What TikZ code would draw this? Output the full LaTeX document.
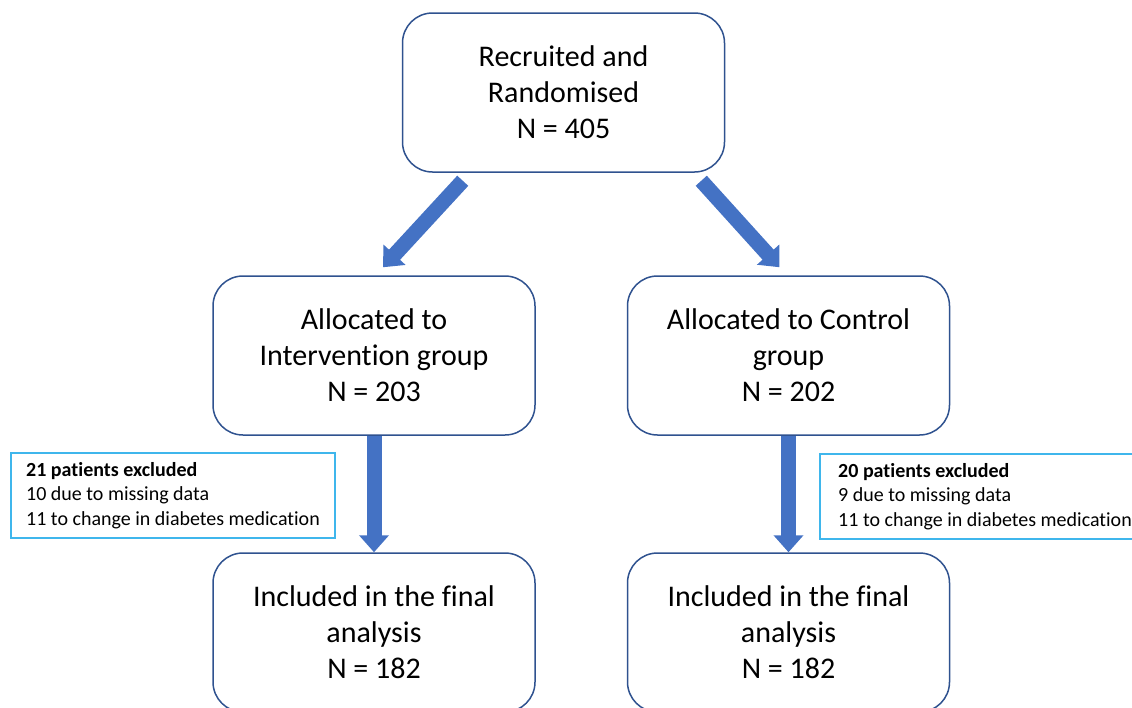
\documentclass[tikz,border=0pt]{standalone}
\usepackage{fontspec}
\setmainfont[Ligatures=CommonOff]{Carlito}
\usetikzlibrary{arrows.meta}
\definecolor{boxline}{HTML}{2F528F}
\definecolor{arrowblue}{HTML}{4472C4}
\definecolor{notecyan}{HTML}{3FB6EC}
\tikzset{
    stage/.style={draw=boxline, line width=1.5pt, rounded corners=30pt,
        minimum width=322pt, minimum height=159pt, align=center,
        font=\fontsize{30}{36}\selectfont},
    note/.style={draw=notecyan, line width=2pt, anchor=north west,
        minimum width=324pt, minimum height=85pt,
        inner xsep=13pt, align=left, font=\fontsize{20}{24.5}\selectfont},
    flow/.style={draw=arrowblue, line width=15pt,
        -{Triangle[width=29pt,length=17pt]}},
}
\begin{document}
\begin{tikzpicture}[x=1pt,y=-1pt]
    \useasboundingbox (0,0) rectangle (1132,707);
    \node[stage] (rec) at (563.5,92.5) {Recruited and\\Randomised\\N = 405};
    \node[stage] (intv) at (374,355.5) {Allocated to\\Intervention group\\N = 203};
    \node[stage] (ctrl) at (788.5,355.5) {Allocated to Control\\group\\N = 202};
    \node[stage] (finintv) at (374,632.5) {Included in the final\\analysis\\N = 182};
    \node[stage] (finctrl) at (788.5,632.5) {Included in the final\\analysis\\N = 182};
    \node[note] (exintv) at (10,452) {\textbf{21 patients excluded}\\10 due to missing data\\11 to change in diabetes medication};
    \node[note, minimum width=330pt] (exctrl) at (819,453) {\textbf{20 patients excluded}\\9 due to missing data\\11 to change in diabetes medication};
    \draw[flow] ([shift={(61,8)}]rec.south west) -- ([shift={(9,-8)}]intv.north);
    \draw[flow] ([shift={(-24,8)}]rec.south east) -- ([shift={(-9,-8)}]ctrl.north);
    \draw[flow] (intv.south) -- (finintv.north);
    \draw[flow] (ctrl.south) -- (finctrl.north);
\end{tikzpicture}
\end{document}
